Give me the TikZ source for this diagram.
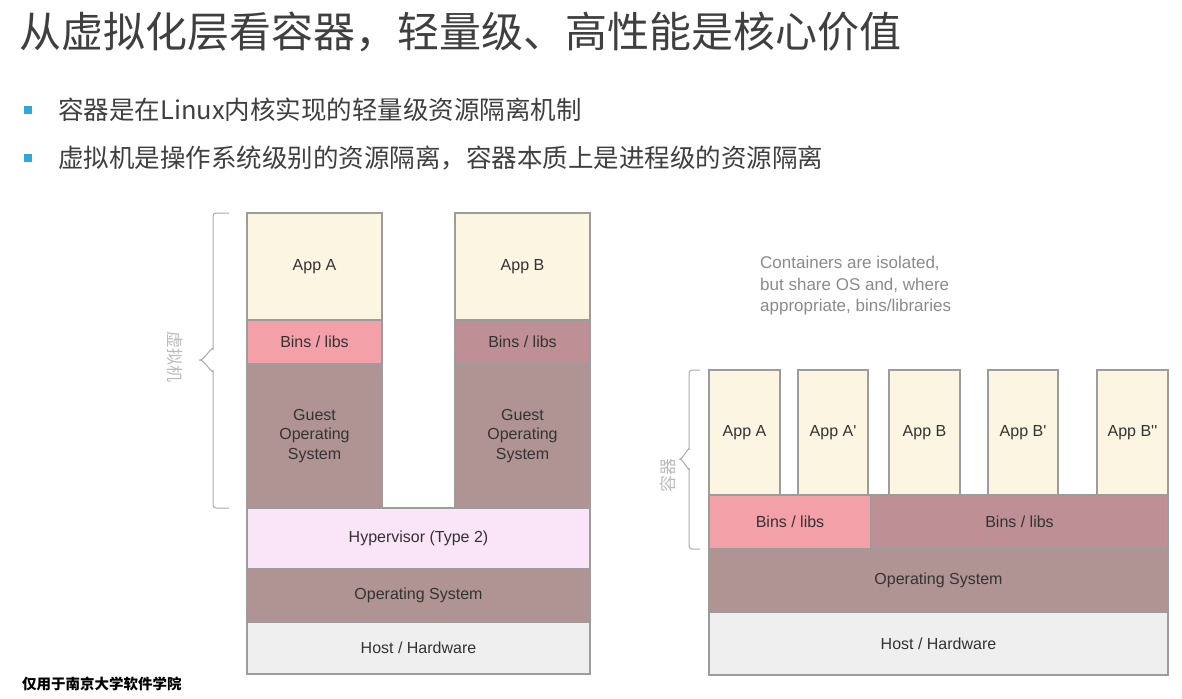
\documentclass[tikz,border=0pt]{standalone}
\usepackage{fontspec}
\setmainfont{Liberation Sans}
\newfontfamily\cjk{Noto Sans CJK SC}
\usetikzlibrary{positioning}
\usepackage{xcolor}
\definecolor{appcol}{HTML}{FCF5E2}
\definecolor{binscol}{HTML}{F4A0A8}
\definecolor{binsdark}{HTML}{BE9096}
\definecolor{oscol}{HTML}{B09494}
\definecolor{hypcol}{HTML}{F9E4F8}
\definecolor{hwcol}{HTML}{EFEFEF}
\definecolor{edgecol}{HTML}{9C9C9C}
\definecolor{boxtext}{HTML}{333333}
\definecolor{titlecol}{HTML}{3F3F3F}
\definecolor{bulletcol}{HTML}{2EA8D8}
\definecolor{notecol}{HTML}{8A8A8A}
\definecolor{bracecol}{HTML}{AAAAAA}
\newcommand{\pr}{\textquotesingle}

\begin{document}
\begin{tikzpicture}[
  x=1pt, y=-1pt,
  node distance=0pt and 0pt,
  layer/.style={draw=edgecol, line width=1.2pt, fill=#1, text=boxtext, align=center,
    font=\fontsize{16}{19.5}\selectfont, inner sep=0pt, outer sep=0pt},
  bullet/.style={fill=bulletcol, minimum size=8.5pt, inner sep=0pt},
  bullettext/.style={anchor=west, text=titlecol, font=\cjk\fontsize{25.5}{30}\selectfont, inner sep=0pt},
  sidebrace/.style={draw=bracecol, line width=1pt, rounded corners=3pt},
  sidelabel/.style={text=bracecol!80, font=\cjk\fontsize{17}{20}\selectfont, inner sep=0pt}
]
\useasboundingbox (0,0) rectangle (1182,698);

% heading and bullets
\node[anchor=west, text=titlecol, font=\cjk\fontsize{42}{50}\selectfont, inner sep=0pt] (title) at (19,32)
  {从虚拟化层看容器，轻量级、高性能是核心价值};
\node[bullet] (b1) at (28,110) {};
\node[bullettext] (t1) at (58,110) {容器是在Linux内核实现的轻量级资源隔离机制};
\node[bullet] (b2) at (28,158) {};
\node[bullettext] (t2) at (58,158) {虚拟机是操作系统级别的资源隔离，容器本质上是进程级的资源隔离};

% virtual machines
\node[layer=appcol, minimum width=135pt, minimum height=107pt, anchor=north west] (vmappA) at (247,213) {App A};
\node[layer=binscol, minimum width=135pt, minimum height=44pt, below=of vmappA] (vmbinsA) {Bins / libs};
\node[layer=oscol, minimum width=135pt, minimum height=144pt, below=of vmbinsA] (guestA) {Guest\\Operating\\System};
\node[layer=appcol, minimum width=135pt, minimum height=107pt, anchor=north west] (vmappB) at (455,213) {App B};
\node[layer=binsdark, minimum width=135pt, minimum height=44pt, below=of vmappB] (vmbinsB) {Bins / libs};
\node[layer=oscol, minimum width=135pt, minimum height=144pt, below=of vmbinsB] (guestB) {Guest\\Operating\\System};
\node[layer=hypcol, minimum width=343pt, minimum height=61pt, anchor=north west] (hyper) at (guestA.south west) {Hypervisor (Type 2)};
\node[layer=oscol, minimum width=343pt, minimum height=53pt, below=of hyper] (vmos) {Operating System};
\node[layer=hwcol, minimum width=343pt, minimum height=52pt, below=of vmos] (vmhw) {Host / Hardware};

\coordinate (vmtop) at (229,213);
\coordinate (vmbot) at (229,508);
\draw[sidebrace] (vmtop) -| (213,352) to[out=90,in=0] (197,360) to[out=0,in=270] (213,368) |- (vmbot);
\node[sidelabel, rotate=-90] (vmlabel) at (175,357) {虚拟机};

% containers
\node[anchor=north west, align=left, text=notecol, font=\fontsize{17}{21.5}\selectfont, inner sep=0pt] (note) at (760,256)
  {Containers are isolated,\\but share OS and, where\\appropriate, bins/libraries};
\node[layer=appcol, minimum width=71pt, minimum height=125pt, anchor=north west] (ctA) at (709,370) {App A};
\node[layer=appcol, minimum width=70pt, minimum height=125pt, anchor=north west] (ctA2) at (798,370) {App A\pr};
\node[layer=appcol, minimum width=71pt, minimum height=125pt, anchor=north west] (ctB) at (889,370) {App B};
\node[layer=appcol, minimum width=70pt, minimum height=125pt, anchor=north west] (ctB2) at (988,370) {App B\pr};
\node[layer=appcol, minimum width=71pt, minimum height=125pt, anchor=north west] (ctB3) at (1097,370) {App B\pr\pr};
\node[layer=binscol, minimum width=162pt, minimum height=54pt, anchor=north west] (ctbinsA) at (709,495) {Bins / libs};
\node[layer=binsdark, minimum width=297pt, minimum height=54pt, right=of ctbinsA] (ctbinsB) {Bins / libs};
\node[layer=oscol, minimum width=459pt, minimum height=63pt, anchor=north west] (ctos) at (ctbinsA.south west) {Operating System};
\node[layer=hwcol, minimum width=459pt, minimum height=63pt, below=of ctos] (cthw) {Host / Hardware};

\coordinate (cttop) at (700,370);
\coordinate (ctbot) at (700,549);
\draw[sidebrace] (cttop) -| (689,452) to[out=90,in=0] (677,459) to[out=0,in=270] (689,466) |- (ctbot);
\node[sidelabel, rotate=90] (ctlabel) at (668,475) {容器};

% footer
\node[anchor=west, font=\cjk\bfseries\fontsize{14.5}{17}\selectfont, inner sep=0pt] (footer) at (22,684) {仅用于南京大学软件学院};
\end{tikzpicture}
\end{document}
